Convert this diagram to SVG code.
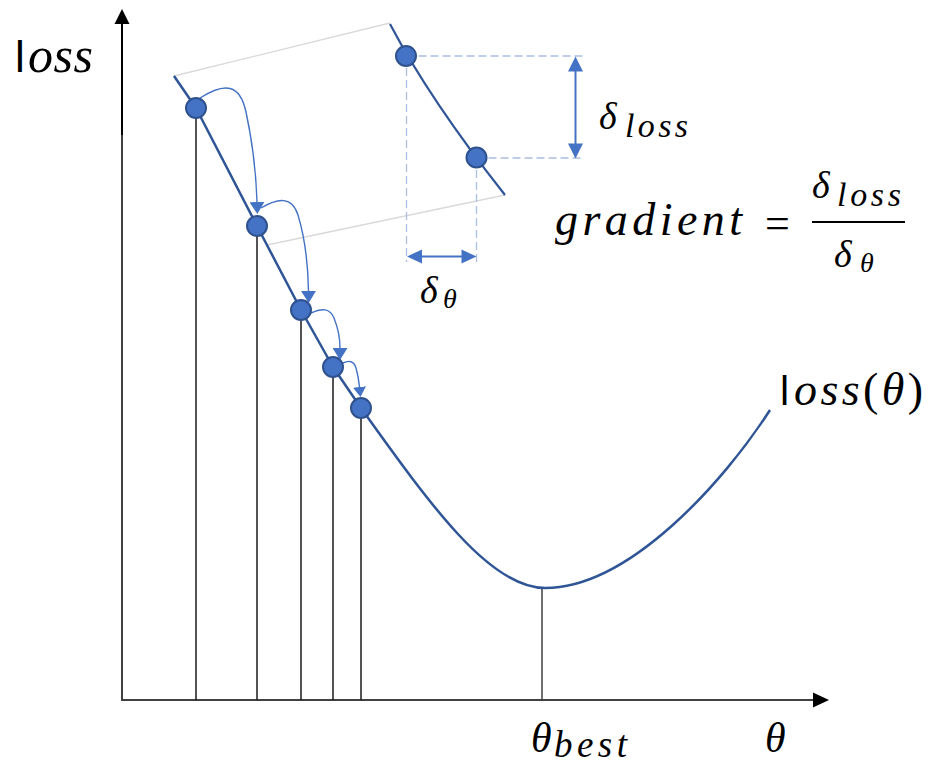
<svg xmlns="http://www.w3.org/2000/svg" width="933" height="764" viewBox="0 0 933 764">
<style>
.axis{stroke:#404040;stroke-width:2;fill:none}
.head{fill:#000}
.curve{stroke:#2F5597;stroke-width:2.5;fill:none;stroke-linejoin:round}
.drop{stroke:#1a1a1a;stroke-width:1.5}
.guide{stroke:#D9D9D9;stroke-width:1.3}
.dash{stroke:#A9BFE4;stroke-width:1.3;stroke-dasharray:8 4;fill:none}
.jump{stroke:#4472C4;stroke-width:1.4;fill:none}
.dbl{stroke:#4472C4;stroke-width:2}
.bh{fill:#4472C4}
.pt{fill:#4472C4;stroke:#2F528F;stroke-width:2}
.m{font-family:"Liberation Serif","Times New Roman",serif;font-style:italic;fill:#000}
.up{font-family:"Liberation Sans",Arial,sans-serif;font-style:normal;fill:#000}
.upr{font-family:"Liberation Serif","Times New Roman",serif;font-style:normal}
</style>
<defs>
<marker id="ah" viewBox="0 0 12 15" refX="0" refY="7.5" markerWidth="12" markerHeight="15" markerUnits="userSpaceOnUse" orient="auto"><path d="M0,0 L12,7.5 L0,15z" fill="#4472C4"/></marker>
<marker id="ahs" viewBox="0 0 10 13" refX="0" refY="6.5" markerWidth="10" markerHeight="13" markerUnits="userSpaceOnUse" orient="auto"><path d="M0,0 L10,6.5 L0,13z" fill="#4472C4"/></marker>
</defs>

<g id="axes">
<line class="axis" x1="122" y1="700" x2="122" y2="22"/>
<line x1="122" y1="135" x2="122" y2="22" stroke="#000" stroke-width="2"/>
<polygon class="head" points="122,9 114.5,24 129.5,24"/>
<line class="axis" x1="121" y1="700" x2="815" y2="700"/>
<polygon class="head" points="829,700 813,692.5 813,707.5"/>
</g>

<g id="connectors">
<line class="guide" x1="174" y1="76" x2="390" y2="23"/>
<line class="guide" x1="267" y1="245" x2="505" y2="195"/>
<line class="dash" x1="406.5" y1="56" x2="583" y2="56"/>
<line class="dash" x1="476.5" y1="158" x2="583" y2="158"/>
<line class="dash" x1="406.5" y1="56" x2="406.5" y2="262"/>
<line class="dash" x1="476.5" y1="158" x2="476.5" y2="262"/>
<line class="drop" x1="196" y1="108" x2="196" y2="700"/>
<line class="drop" x1="257" y1="226" x2="257" y2="700"/>
<line class="drop" x1="301" y1="310" x2="301" y2="700"/>
<line class="drop" x1="333" y1="367" x2="333" y2="700"/>
<line class="drop" x1="361" y1="408" x2="361" y2="700"/>
<line x1="542" y1="589" x2="542" y2="700" stroke="#404040" stroke-width="1.5"/>
<path class="jump" d="M200,98 C225,82 240,84 246,112 C252,140 256,170 257,202" marker-end="url(#ah)"/>
<path class="jump" d="M261,208 C278,198 292,196 298,215 C304,235 308,260 308.5,291" marker-end="url(#ah)"/>
<path class="jump" d="M311,313 C322,308 330,308 334,318 C338,328 340,338 340,348" marker-end="url(#ah)"/>
<path class="jump" d="M343,363 C349,360 354,361 356,368 C358,375 359,382 359.5,387" marker-end="url(#ahs)"/>
<line class="dbl" x1="575.5" y1="70" x2="575.5" y2="144"/>
<polygon class="bh" points="575.5,56.5 568,71.5 583,71.5"/>
<polygon class="bh" points="575.5,158.5 568,143.5 583,143.5"/>
<line class="dbl" x1="420" y1="256.5" x2="463" y2="256.5"/>
<polygon class="bh" points="407,256.5 422,249.5 422,263.5"/>
<polygon class="bh" points="476.5,256.5 461.5,249.5 461.5,263.5"/>
</g>

<g id="loss-curve">
<path class="curve" d="M174,76 L196,108 L257,226 L301,310 L333,367 L361,408 C431,506 490,588 545,588 C630,588 725,480 770,410"/>
</g>

<g id="inset-curve">
<path class="curve" style="stroke-width:2.2" d="M390,24 Q430,100 505,195"/>
</g>

<g id="points">
<circle class="pt" cx="196" cy="108" r="10"/>
<circle class="pt" cx="257" cy="226" r="10"/>
<circle class="pt" cx="301" cy="310" r="10"/>
<circle class="pt" cx="333" cy="367" r="10"/>
<circle class="pt" cx="361" cy="408" r="10"/>
<circle class="pt" cx="406" cy="56" r="10"/>
<circle class="pt" cx="476.5" cy="157.5" r="10"/>
</g>

<g id="labels">
<text class="up" x="15" y="72" font-size="44">l</text>
<text class="m" x="28" y="72" font-size="50" textLength="65">oss</text>
<text class="m" x="599" y="129" font-size="38">δ</text>
<text class="m" x="625" y="137" font-size="34" textLength="63">loss</text>
<text class="m" x="555" y="235" font-size="46" textLength="187">gradient</text>
<text class="upr" x="765" y="238" font-size="44">=</text>
<line x1="812" y1="222" x2="905" y2="222" stroke="#000" stroke-width="2"/>
<text class="m" x="812" y="198" font-size="38">δ</text>
<text class="m" x="837" y="206" font-size="34" textLength="64">loss</text>
<text class="m" x="834" y="267" font-size="38">δ</text>
<text class="m" x="860" y="272" font-size="28">θ</text>
<text class="m" x="420" y="303" font-size="38">δ</text>
<text class="m" x="443" y="308" font-size="28">θ</text>
<text class="up" x="780" y="405" font-size="41">l</text>
<text class="m" x="794" y="405" font-size="46" textLength="129">oss<tspan class="upr">(</tspan>θ<tspan class="upr">)</tspan></text>
<text class="m" x="531" y="752" font-size="42">θ</text>
<text class="m" x="554" y="757" font-size="37" textLength="73">best</text>
<text class="m" x="765" y="752" font-size="42">θ</text>
</g>
</svg>
